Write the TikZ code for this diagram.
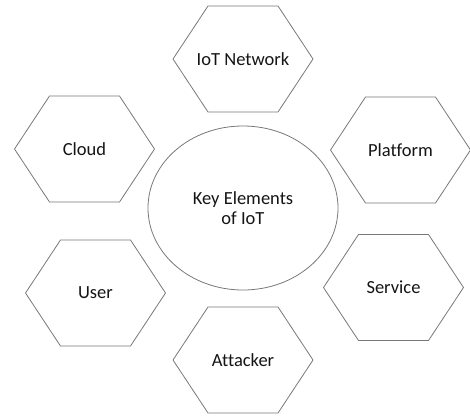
\documentclass[tikz,border=0pt]{standalone}
\usepackage{fontspec}
\setmainfont{Carlito}[Ligatures=NoCommon]
\usetikzlibrary{shapes.geometric}

\definecolor{linegray}{RGB}{120,120,120}
\definecolor{textdark}{RGB}{20,20,20}

\tikzset{
    hexline/.style={draw=linegray, line width=0.8pt, line join=round},
    lbl/.style={font=\fontsize{18.5}{20}\selectfont, text=textdark, align=center},
}

% hexagon around a named node
\newcommand{\hexa}[1]{%
    \draw[hexline]([shift={(-70,0)}]#1.center)--([shift={(-35,-53)}]#1.center)
        --([shift={(35,-53)}]#1.center)--([shift={(70,0)}]#1.center)
        --([shift={(35,53)}]#1.center)--([shift={(-35,53)}]#1.center)--cycle;}

\begin{document}
\begin{tikzpicture}[x=1pt, y=-1pt]
    \useasboundingbox(0,0)rectangle(470,415);

    \node[lbl, ellipse, draw=linegray, line width=0.8pt,
        minimum width=190pt, minimum height=164pt](key)at(243,208){Key Elements\\of IoT};

    \node[lbl](network)at(243,59){IoT Network};
    \node[lbl](cloud)at(84.5,149){Cloud};
    \node[lbl](platform)at(400.5,150){Platform};
    \node[lbl](user)at(95.5,293){User};
    \node[lbl](service)at(393.5,287.5){Service};
    \node[lbl](attacker)at(243,360){Attacker};

    \hexa{network}
    \hexa{cloud}
    \hexa{platform}
    \hexa{user}
    \hexa{service}
    \hexa{attacker}
\end{tikzpicture}
\end{document}
